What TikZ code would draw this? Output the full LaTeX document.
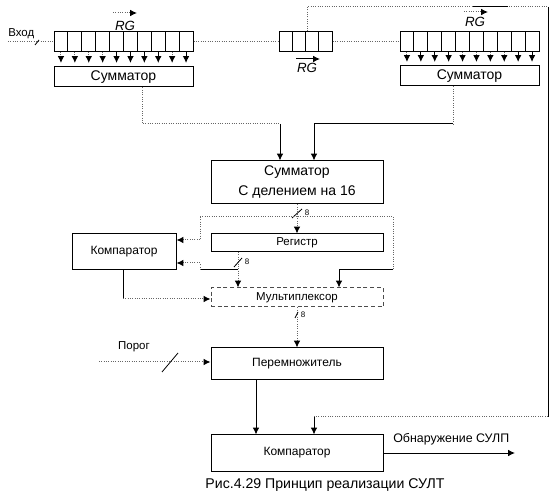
\documentclass[tikz,border=0pt]{standalone}
\usepackage{fontspec}
\setmainfont{Liberation Sans}
\usetikzlibrary{arrows.meta}
\begin{document}
\begin{tikzpicture}[x=0.75pt,y=-0.75pt,
  box/.style={draw, fill=white, line width=0.75pt, inner sep=0pt},
  dl/.style={line width=0.75pt, black!60, densely dotted},
  sl/.style={line width=0.75pt, black},
  arr/.style={-{Latex[length=5.2pt,width=5pt,black]}},
  big/.style={font=\fontsize{10.5}{14}\selectfont},
  mid/.style={font=\fontsize{9}{11}\selectfont},
  sml/.style={font=\fontsize{8.6}{10}\selectfont},
  tiny/.style={font=\fontsize{6}{7}\selectfont, inner sep=0pt},
  rg/.style={font=\fontsize{10}{12}\selectfont\itshape, inner sep=0pt},
  slash/.style={line width=0.6pt, black}
]
\useasboundingbox (0,0) rectangle (560,498);

% registers
\node[box, minimum width=104.25pt, minimum height=15pt] (regL) at (123.5,42) {};
\foreach \i in {1,...,9} \draw[sl] ({54+\i*13.9},32) -- ({54+\i*13.9},52);
\node[box, minimum width=39.75pt, minimum height=15pt] (regM) at (305.5,42) {};
\foreach \i in {1,...,3} \draw[sl] ({279+\i*13.25},32) -- ({279+\i*13.25},52);
\node[box, minimum width=104.25pt, minimum height=15pt] (regR) at (469.5,42) {};
\foreach \i in {1,...,9} \draw[sl] ({400+\i*13.9},32) -- ({400+\i*13.9},52);

% RG labels
\node[rg] (rgL) at (125,26) {RG};
\coordinate (rgLa) at (113,13); \coordinate (rgLb) at (137,13);
\draw[dl, arr] (rgLa) -- (rgLb);
\node[rg] (rgM) at (307,68) {RG};
\coordinate (rgMa) at (296,59); \coordinate (rgMb) at (320,59);
\draw[sl, arr] (rgMa) -- (rgMb);
\node[rg] (rgR) at (475,22) {RG};
\coordinate (rgRa) at (464,12); \coordinate (rgRb) at (488,12);
\draw[dl, arr] (rgRa) -- (rgRb);

% input
\node[sml, anchor=west, inner sep=0pt] (vhod) at (8,34) {Вход};
\coordinate (in0) at (8,42);
\draw[dl] (in0) -- (regL.west);
\coordinate (vs1) at (35,45); \coordinate (vs2) at (39,40);
\draw[slash] (vs1) -- (vs2);
\draw[dl] (regL.east) -- (regM.west);
\draw[dl] (regM.east) -- (regR.west);

% summators
\node[box, big, minimum width=104.25pt, minimum height=15pt] (sumL) at (123.5,77) {Сумматор};
\node[box, big, minimum width=104.25pt, minimum height=15pt] (sumR) at (469.5,76) {Сумматор};
\foreach \i/\s in {0/dl,1/dl,2/dl,3/dl,4/sl,5/sl,6/sl,7/sl,8/dl,9/sl}
  \draw[\s, arr] ({54+(\i+0.5)*13.9},52) -- ({54+(\i+0.5)*13.9},63);
\foreach \i/\s in {0/dl,1/sl,2/sl,3/sl,4/dl,5/dl,6/dl,7/dl,8/sl,9/sl}
  \draw[\s, arr] ({400+(\i+0.5)*13.9},52) -- ({400+(\i+0.5)*13.9},62);

% big summator
\node[box, big, minimum width=129pt, minimum height=32.25pt, align=center] (bigsum) at (297,182.5) {Сумматор\\[1pt]С делением на 16};

\coordinate (a1) at (142,124); \coordinate (a2) at (280,124);
\draw[dl] (a1 |- sumL.south) -- (a1) -- (a2);
\draw[sl, arr] (a2) -- (a2 |- bigsum.north);
\coordinate (b1) at (453,124); \coordinate (b2) at (314,124);
\draw[dl] (b1 |- sumR.south) -- (b1);
\draw[sl] (b1) -- (b2);
\draw[sl, arr] (b2) -- (b2 |- bigsum.north);

% feedback from middle register
\coordinate (f1) at (307,7); \coordinate (f2) at (548,7);
\coordinate (f3) at (548,417); \coordinate (f4) at (314,417);
\draw[dl] (f1 |- regM.north) -- (f1) -- (f2);
\coordinate (t1) at (473,6.5); \coordinate (t2) at (508,6.5);
\draw[sl] (t1) -- (t2);
\draw[sl] (f2) -- (f3);
\draw[dl] (f3) -- (f4);

% register, comparator, mux
\node[box, sml, minimum width=129pt, minimum height=13.5pt] (reg) at (297,243) {Регистр};
\node[box, mid, minimum width=78pt, minimum height=27pt] (compL) at (124,252) {Компаратор};
\node[box, sml, minimum width=129pt, minimum height=14.25pt, draw=black!70, densely dashed] (mux) at (297,297.5) {Мультиплексор};
\node[box, mid, minimum width=129pt, minimum height=24pt] (mult) at (297,364) {Перемножитель};
\node[box, mid, minimum width=129pt, minimum height=27pt] (compB) at (297,453) {Компаратор};

\draw[sl, arr] (f4) -- (f4 |- compB.north);

% bigsum -> register
\draw[dl, arr] (bigsum.south) -- (reg.north);
\coordinate (s1a) at (292,218); \coordinate (s1b) at (302,209);
\draw[slash] (s1a) -- (s1b);
\node[tiny] (n1) at (307,213) {8};

% loop
\coordinate (l1) at (200,217); \coordinate (l2) at (393,217);
\coordinate (l3) at (200,240); \coordinate (l4) at (393,270);
\coordinate (l5) at (339,270);
\draw[dl] (l1) -- (l2);
\draw[dl] (l1) -- (l3);
\draw[dl, arr] (l3) -- (l3 -| compL.east);
\draw[dl] (l2) -- (l4);
\draw[sl] (l4) -- (l5);
\draw[sl, arr] (l5) -- (l5 |- mux.north);

% register -> mux
\coordinate (r1) at (238,252); \coordinate (r2) at (238,270);
\coordinate (r3) at (200,270); \coordinate (r4) at (200,263);
\draw[dl, arr] (r1) -- (r1 |- mux.north);
\draw[sl] (r2) -- (r3);
\draw[dl] (r3) -- (r4);
\draw[dl, arr] (r4) -- (r4 -| compL.east);
\coordinate (s2a) at (234,267); \coordinate (s2b) at (242,258);
\draw[slash] (s2a) -- (s2b);
\node[tiny] (n2) at (247,262) {8};

% comparator -> mux
\coordinate (c1) at (123,299);
\draw[sl] (c1 |- compL.south) -- (c1);
\draw[dl, arr] (c1) -- (c1 -| mux.west);

% mux -> mult
\draw[dl, arr] (mux.south) -- (mult.north);
\coordinate (s3a) at (295,318); \coordinate (s3b) at (298,312);
\draw[slash] (s3a) -- (s3b);
\node[tiny] (n3) at (303,315) {8};

% threshold
\node[sml, inner sep=0pt] (porog) at (134,347) {Порог};
\coordinate (p0) at (99,362);
\draw[dl, arr] (p0) -- (p0 -| mult.west);
\coordinate (s4a) at (162,372); \coordinate (s4b) at (178,353);
\draw[slash] (s4a) -- (s4b);

% mult -> compB
\coordinate (m1) at (256,380);
\draw[sl, arr] (m1) -- (m1 |- compB.north);

% output
\coordinate (o1) at (515,453);
\draw[sl, arr] (compB.east) -- (o1);
\node[font=\fontsize{9.3}{11}\selectfont, anchor=south west, inner sep=0pt] (obn) at (393,445) {Обнаружение СУЛП};

% caption
\node[font=\fontsize{10.6}{12}\selectfont, inner sep=0pt] (cap) at (325,485) {Рис.4.29 Принцип реализации СУЛТ};
\end{tikzpicture}
\end{document}
